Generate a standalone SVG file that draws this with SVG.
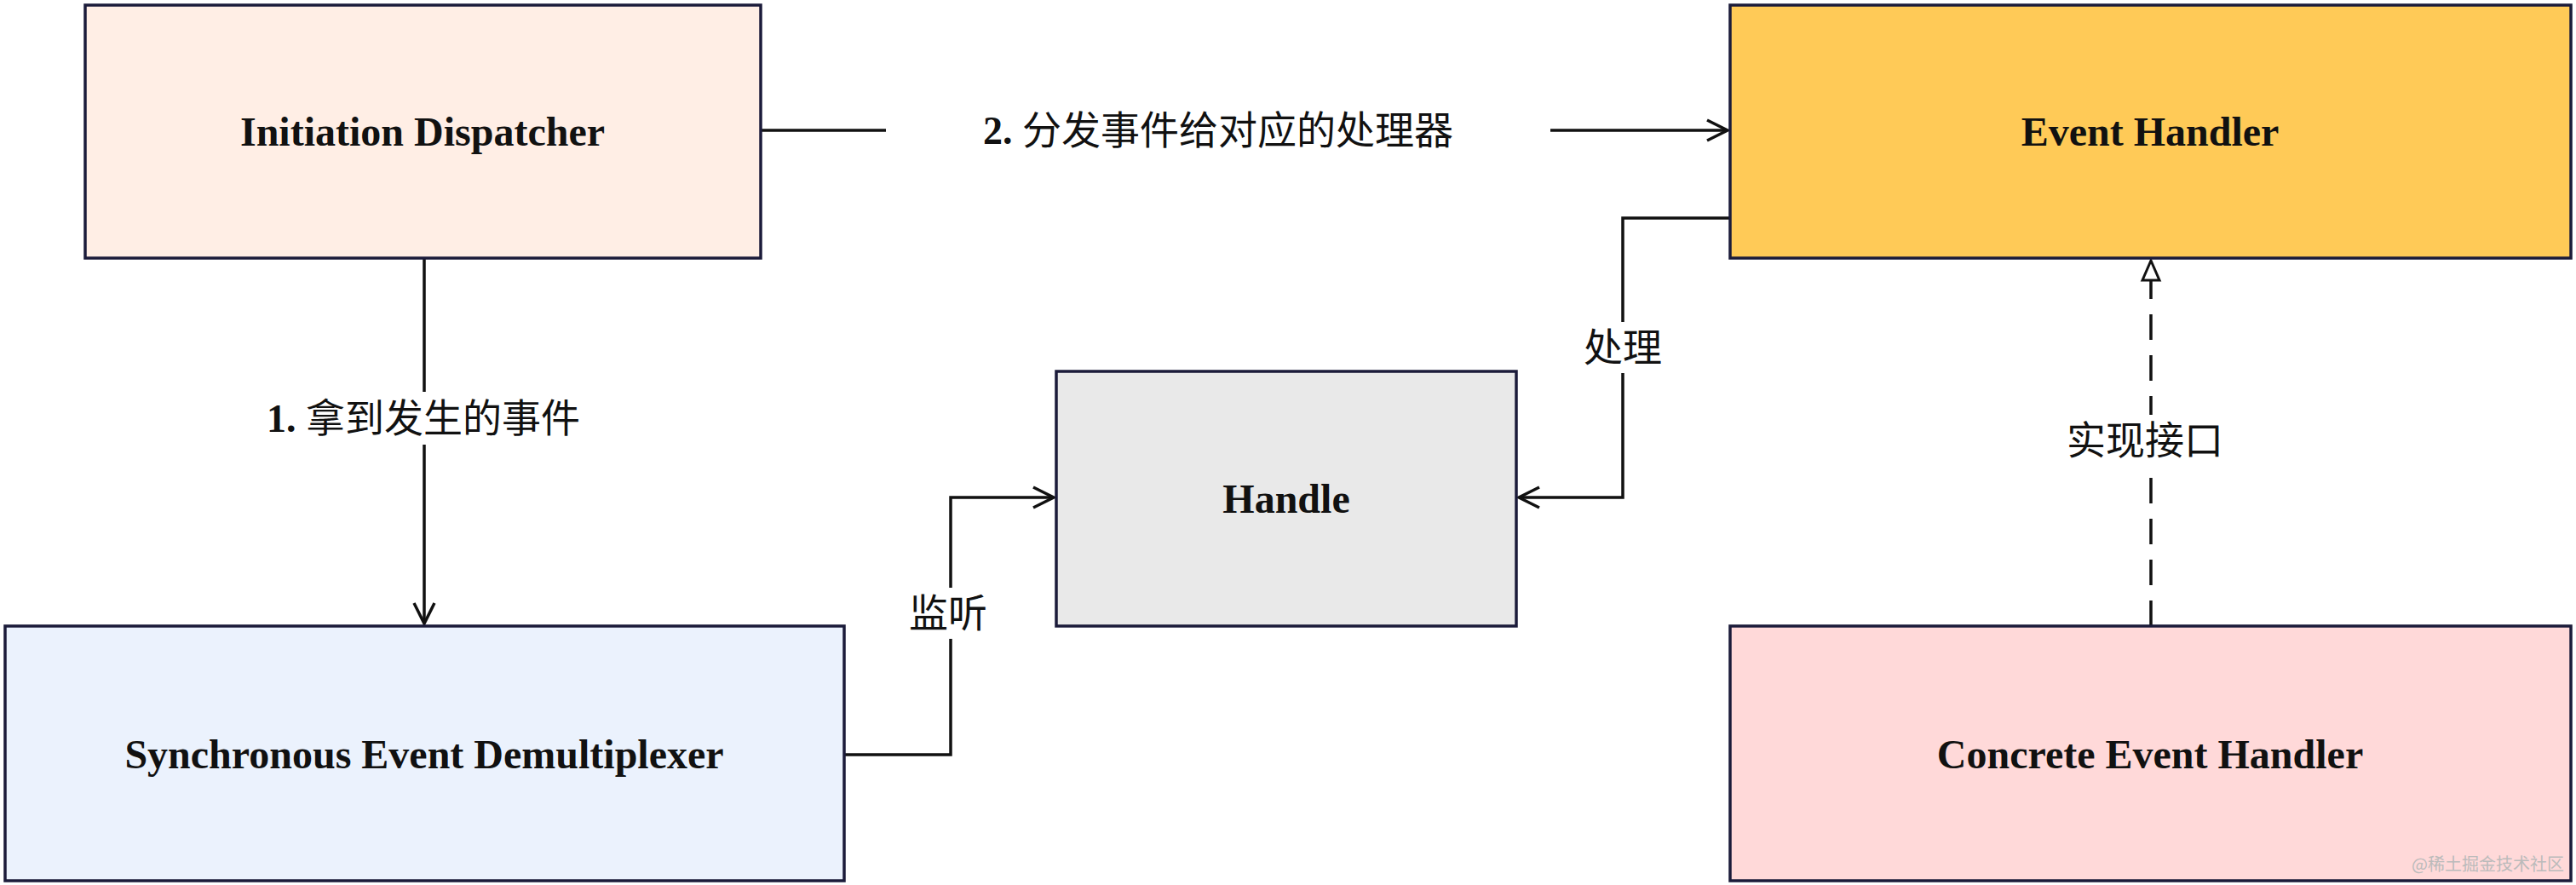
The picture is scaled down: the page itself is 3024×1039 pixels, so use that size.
<svg xmlns="http://www.w3.org/2000/svg" width="3024" height="1039" viewBox="0 0 3024 1039">
<style>
.n{stroke:#1b1b3a;stroke-width:3.5}
.t{font-family:"Liberation Serif","Noto Sans CJK SC",serif;font-weight:bold;font-size:48px;fill:#111;text-anchor:middle;dominant-baseline:central}
.l{font-family:"Liberation Serif","Noto Sans CJK SC",serif;font-size:46px;fill:#111;text-anchor:middle;dominant-baseline:central}
.c{fill:none;stroke:#111;stroke-width:3.5}
</style>
<defs>
<marker id="a" markerWidth="14" markerHeight="14" refX="13" refY="7" orient="auto" markerUnits="userSpaceOnUse" viewBox="0 0 14 14"><path d="M1,1 L13,7 L1,13" fill="none" stroke="#111" stroke-width="2.5"/></marker>
<marker id="a2" markerWidth="30" markerHeight="30" refX="26" refY="15" orient="auto" markerUnits="userSpaceOnUse"><path d="M2,3 L26,15 L2,27" fill="none" stroke="#111" stroke-width="3.5"/></marker>
<marker id="tri" markerWidth="30" markerHeight="30" refX="26" refY="15" orient="auto" markerUnits="userSpaceOnUse"><path d="M3,5 L26,15 L3,25 Z" fill="#fff" stroke="#111" stroke-width="3"/></marker>
</defs>
<rect width="3024" height="1039" fill="#fff"/>
<g id="connectors">
<path class="c" d="M893,153 H2028" marker-end="url(#a2)"/>
<path class="c" d="M498,303 V732" marker-end="url(#a2)"/>
<path class="c" d="M991,886 H1116 V584 H1237" marker-end="url(#a2)"/>
<path class="c" d="M2031,256 H1905 V584 H1783" marker-end="url(#a2)"/>
<path class="c" d="M2525,735 V306" stroke-dasharray="30,18" marker-end="url(#tri)"/>
<rect x="1040" y="123" width="780" height="62" fill="#fff"/>
<text class="l" x="1430" y="153"><tspan font-weight="bold">2.</tspan> 分发事件给对应的处理器</text>
<rect x="235" y="460" width="520" height="62" fill="#fff"/>
<text class="l" x="497" y="491"><tspan font-weight="bold">1.</tspan> 拿到发生的事件</text>
<rect x="1050" y="690" width="130" height="60" fill="#fff"/>
<text class="l" x="1113" y="720">监听</text>
<rect x="1840" y="378" width="130" height="60" fill="#fff"/>
<text class="l" x="1905" y="408">处理</text>
<rect x="2390" y="487" width="270" height="60" fill="#fff"/>
<text class="l" x="2518" y="517">实现接口</text>
</g>
<g id="initiation"><rect class="n" x="100" y="6" width="793" height="297" fill="#FFEEE5"/><text class="t" x="496" y="154">Initiation Dispatcher</text></g>
<g id="eventhandler"><rect class="n" x="2031" y="6" width="987" height="297" fill="#FFCA57"/><text class="t" x="2524" y="154">Event Handler</text></g>
<g id="handle"><rect class="n" x="1240" y="436" width="540" height="299" fill="#E9E9E9"/><text class="t" x="1510" y="585">Handle</text></g>
<g id="sync"><rect class="n" x="6" y="735" width="985" height="299" fill="#EBF2FD"/><text class="t" x="498" y="885">Synchronous Event Demultiplexer</text></g>
<g id="concrete"><rect class="n" x="2031" y="735" width="987" height="299" fill="#FFD9D9"/><text class="t" x="2524" y="885">Concrete Event Handler</text></g>
<text x="3010" y="1022" font-family="Noto Sans CJK SC,sans-serif" font-size="20" fill="#bbb" text-anchor="end">@稀土掘金技术社区</text>
</svg>
